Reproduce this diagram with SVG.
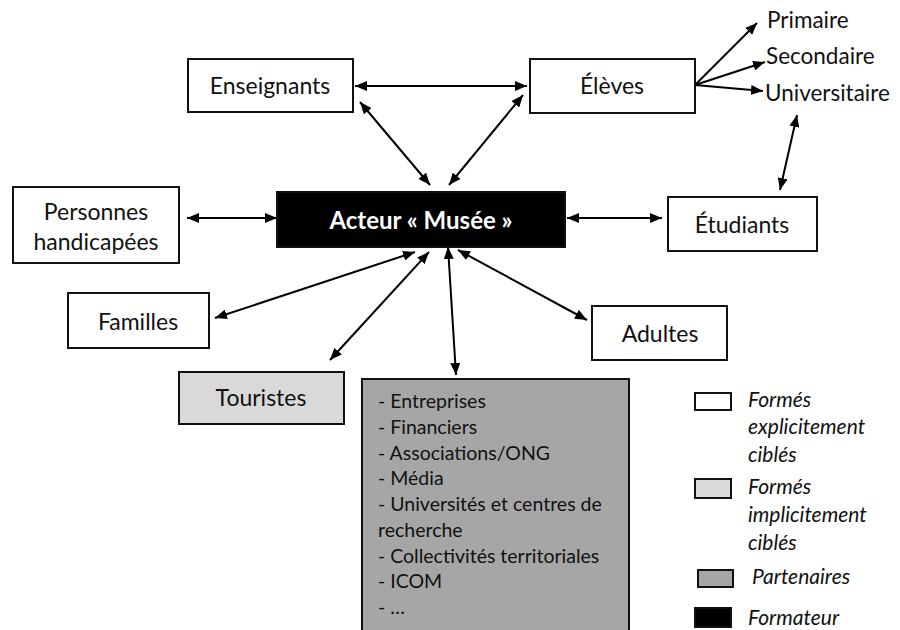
<svg xmlns="http://www.w3.org/2000/svg" width="900" height="630" viewBox="0 0 900 630">
<defs>
<marker id="ah" viewBox="0 0 12 10" refX="12" refY="5" markerWidth="12" markerHeight="10" markerUnits="userSpaceOnUse" orient="auto-start-reverse">
<path d="M0,0 L12,5 L0,10 Z" fill="#000"/>
</marker>
</defs>
<style>
text{font-family:Lato,"Open Sans","Liberation Sans",sans-serif;fill:#111}
.lbl{font-size:23px;text-anchor:middle}
.lvl{font-size:22.5px}
.box{stroke:#111;stroke-width:2}
.w{fill:#fff}.lg{fill:#d9d9d9}.dg{fill:#a6a6a6}.bk{fill:#000}
.list{font-size:19.5px}
.leg{font-size:21px;font-style:italic}
#conn line{stroke:#000;stroke-width:2;marker-end:url(#ah)}
#conn line.bi{marker-start:url(#ah)}
</style>
<rect width="900" height="630" fill="#fff"/>
<g id="conn">
<line class="bi" x1="355" y1="86" x2="527" y2="86"/>
<line class="bi" x1="360" y1="102" x2="430" y2="185"/>
<line class="bi" x1="523" y1="95" x2="449" y2="185"/>
<line x1="695" y1="85" x2="757" y2="23"/>
<line x1="695" y1="85" x2="765" y2="62"/>
<line x1="695" y1="85" x2="763" y2="91"/>
<line class="bi" x1="797" y1="115" x2="780" y2="190"/>
<line class="bi" x1="187" y1="218" x2="277" y2="218"/>
<line class="bi" x1="567" y1="218" x2="662" y2="218"/>
<line class="bi" x1="415" y1="252" x2="215" y2="318"/>
<line class="bi" x1="429" y1="252" x2="330" y2="360"/>
<line class="bi" x1="448" y1="247" x2="456" y2="375"/>
<line class="bi" x1="458" y1="250" x2="587" y2="320"/>
</g>
<g id="enseignants"><rect class="box w" x="188" y="59" width="165" height="53"/><text class="lbl" x="270" y="94">Enseignants</text></g>
<g id="eleves"><rect class="box w" x="530" y="59" width="165" height="54"/><text class="lbl" x="612" y="94">Élèves</text></g>
<g id="primaire"><text class="lvl" x="767" y="28">Primaire</text></g>
<g id="secondaire"><text class="lvl" x="766" y="64">Secondaire</text></g>
<g id="universitaire"><text class="lvl" x="765" y="101">Universitaire</text></g>
<g id="personnes"><rect class="box w" x="13" y="187" width="166" height="76"/><text class="lbl" x="96" y="220">Personnes</text><text class="lbl" x="96" y="250">handicapées</text></g>
<g id="musee"><rect class="box bk" x="277" y="192" width="288" height="55"/><text class="lbl" x="421" y="229" style="fill:#fff;font-weight:bold;font-size:24px">Acteur « Musée »</text></g>
<g id="etudiants"><rect class="box w" x="668" y="197" width="149" height="54"/><text class="lbl" x="742" y="233">Étudiants</text></g>
<g id="familles"><rect class="box w" x="68" y="293" width="141" height="55"/><text class="lbl" x="138" y="330">Familles</text></g>
<g id="adultes"><rect class="box w" x="592" y="306" width="135" height="54"/><text class="lbl" x="660" y="342">Adultes</text></g>
<g id="touristes"><rect class="box lg" x="179" y="372" width="165" height="52"/><text class="lbl" x="261" y="406">Touristes</text></g>
<g id="partenaires"><rect class="box dg" x="362" y="379" width="267" height="260"/>
<text class="list" x="378" y="408">- Entreprises</text>
<text class="list" x="378" y="434">- Financiers</text>
<text class="list" x="378" y="460">- Associations/ONG</text>
<text class="list" x="378" y="485">- Média</text>
<text class="list" x="378" y="511">- Universités et centres de</text>
<text class="list" x="378" y="537">recherche</text>
<text class="list" x="378" y="563">- Collectivités territoriales</text>
<text class="list" x="378" y="588">- ICOM</text>
<text class="list" x="378" y="614">- …</text>
</g>
<g id="legend">
<rect class="box w" x="695" y="393" width="36" height="17"/>
<text class="leg" x="748" y="407">Formés</text><text class="leg" x="748" y="434">explicitement</text><text class="leg" x="748" y="462">ciblés</text>
<rect class="box lg" x="695" y="479" width="36" height="19"/>
<text class="leg" x="748" y="494">Formés</text><text class="leg" x="748" y="522">implicitement</text><text class="leg" x="748" y="550">ciblés</text>
<rect class="box dg" x="698" y="570" width="35" height="17"/>
<text class="leg" x="752" y="584">Partenaires</text>
<rect class="box bk" x="695" y="608" width="36" height="19"/>
<text class="leg" x="748" y="625">Formateur</text>
</g>
</svg>
